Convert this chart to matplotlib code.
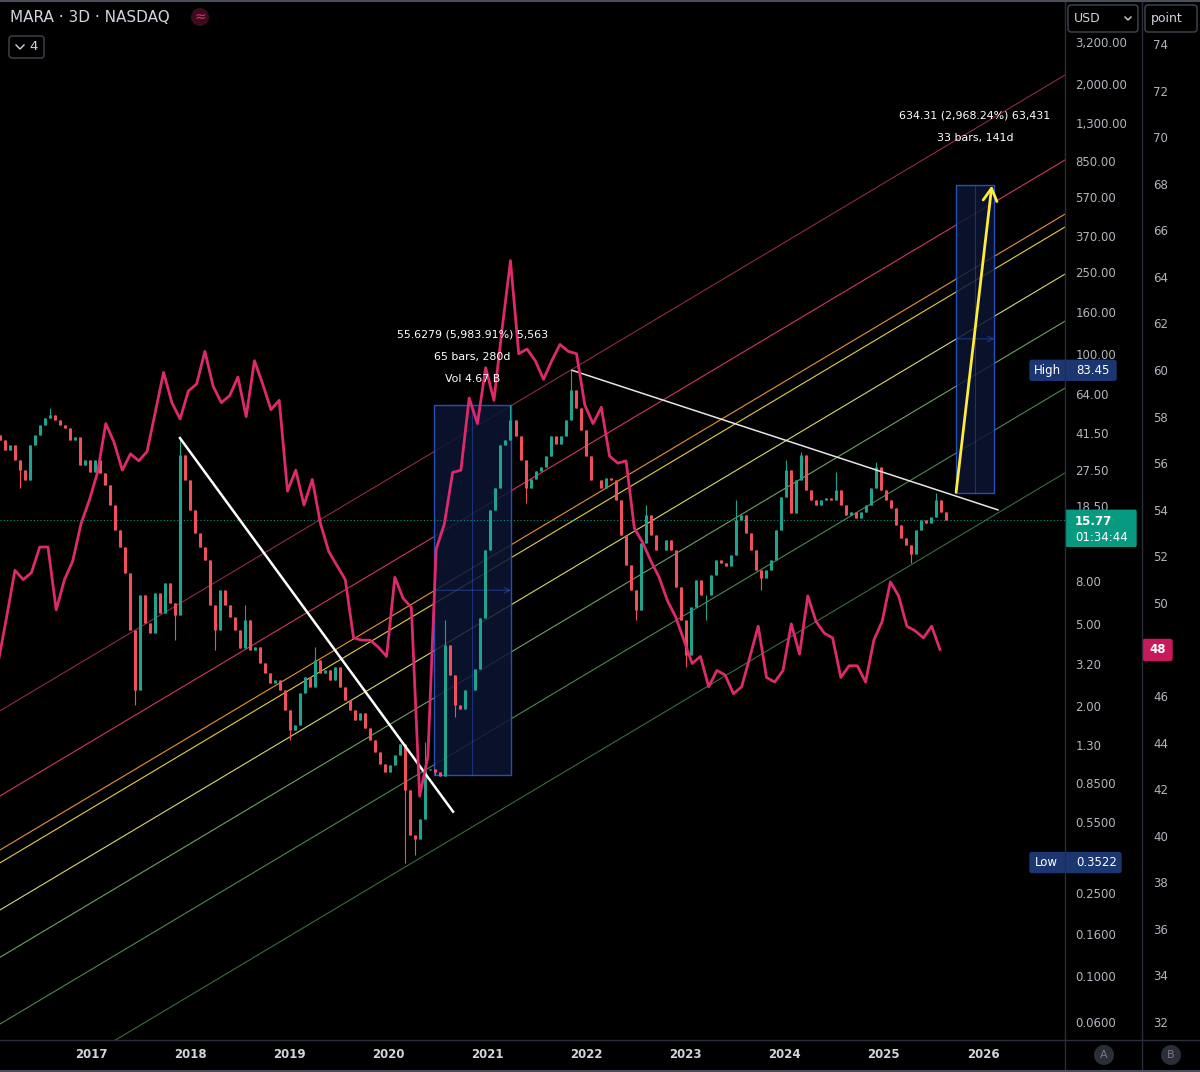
import matplotlib
matplotlib.use("Agg")
import matplotlib.pyplot as plt
import matplotlib.patches as mpatches
from matplotlib.ticker import FixedLocator, FixedFormatter, NullLocator
import numpy as np

W, H = 1200, 1072

# ---- MARA 3D candles, thinned to one every ~18 days (USD) ----
bar_start = 2016.082
bar_step = 0.0505
first_open = 40.5
closes = [
    38.5, 34.4, 36.4, 30.8, 27.6, 24.7, 36.4, 40.7, 45.4, 49.1,
    50.8, 48.0, 45.4, 44.0, 38.5, 39.8, 29.1, 30.8, 26.9, 30.8,
    26.6, 23.3, 18.7, 14.2, 11.7, 8.8, 4.66, 2.39, 6.9, 5.03,
    4.5, 7.05, 5.6, 7.85, 6.3, 5.5, 32.6, 24.7, 17.7, 13.7,
    11.7, 10.1, 6.15, 4.66, 7.3, 6.15, 5.4, 4.66, 3.82, 5.2,
    3.73, 3.86, 3.23, 2.89, 2.59, 2.68, 2.39, 1.92, 1.53, 1.62,
    2.31, 2.77, 2.47, 3.34, 2.89, 2.99, 2.68, 3.09, 2.47, 2.14,
    1.92, 1.72, 1.85, 1.57, 1.37, 1.20, 1.05, 0.96, 1.04, 1.16,
    1.31, 0.79, 0.478, 0.457, 0.571, 0.98, 1.0, 0.96, 0.92, 3.95,
    2.83, 2.03, 1.94, 2.39, 2.39, 3.02, 5.3, 11.3, 17.7, 22.6,
    36.4, 38.5, 48.0, 40.2, 30.8, 22.6, 25.0, 27.3, 28.5, 32.2,
    40.2, 36.8, 40.2, 48.0, 67.0, 54.9, 43.0, 32.2, 24.7, 24.7,
    22.6, 25.3, 24.7, 19.75, 13.4, 9.6, 7.3, 5.8, 12.3, 16.7,
    13.4, 11.3, 11.3, 12.7, 11.3, 7.5, 5.2, 3.53, 6.0, 8.1,
    6.9, 6.9, 8.6, 10.1, 9.8, 9.5, 10.7, 15.8, 16.7, 13.7,
    11.3, 9.1, 8.3, 9.1, 10.1, 14.2, 20.4, 27.6, 17.1, 24.7,
    32.6, 22.1, 19.75, 18.7, 19.75, 20.2, 19.75, 22.1, 18.7, 16.7,
    17.3, 16.2, 17.3, 18.7, 22.6, 28.5, 22.1, 19.75, 18.1, 15.0,
    13.0, 12.0, 10.9, 14.2, 15.8, 15.3, 16.3, 19.75, 17.3, 15.77,
]
# wick extremes that stick out of the bodies (bar index -> price)
wick_highs = {10: 54.9, 36: 39.3, 49: 6.15, 63: 3.86, 85: 1.34, 89: 5.2,
              102: 56.56, 114: 83.45, 129: 18.7, 147: 19.75, 157: 30.8,
              160: 33.7, 167: 26.9, 175: 30.1, 187: 21.4}
wick_lows = {4: 22.6, 27: 2.03, 35: 4.17, 43: 3.73, 58: 1.37, 81: 0.3522,
             83: 0.383, 87: 0.9296, 91: 1.78, 105: 19.1, 127: 5.2, 137: 3.1,
             141: 5.2, 152: 7.3, 182: 9.8}

# ---- monthly oscillator on the "point" scale ----
osc_start = 2016.066
osc = [
    47.5, 49.4, 51.4, 51.0, 51.3, 52.4, 52.4, 49.7, 51.0, 51.8, 53.4,
    54.4, 55.6, 57.7, 56.9, 55.7, 56.4, 56.1, 56.5, 58.2, 59.9,
    58.6, 57.9, 59.1, 59.4, 60.8, 59.3, 58.6, 58.9, 59.7, 58.0,
    60.4, 59.4, 58.3, 58.7, 54.8, 55.7, 54.2, 55.3, 53.4, 52.2,
    51.6, 51.0, 48.5, 48.4, 48.4, 48.1, 47.7, 51.1, 50.2, 49.8,
    41.7, 43.4, 52.3, 53.4, 55.6, 55.7, 58.8, 57.7, 60.1, 58.7,
    61.8, 64.7, 60.7, 60.9, 60.4, 59.6, 60.4, 61.1, 60.8, 60.7,
    58.5, 57.7, 58.4, 56.3, 56.0, 56.1, 53.2, 52.6, 51.8, 51.1,
    50.1, 49.4, 48.4, 47.4, 47.7, 46.4, 47.1, 46.9, 46.1, 46.4,
    47.7, 49.0, 46.8, 46.6, 47.1, 49.1, 47.8, 50.3, 49.2, 48.7,
    48.5, 46.8, 47.3, 47.3, 46.6, 48.4, 49.2, 50.9, 50.3, 49.0,
    48.8, 48.5, 49.0, 48.0,
]

# ---- axes ----
years = list(range(2017, 2027))
price_ticks = [3200, 2000, 1300, 850, 570, 370, 250, 160, 100, 64, 41.5, 27.5,
               18.5, 8, 5, 3.2, 2, 1.3, 0.85, 0.55, 0.25, 0.16, 0.1, 0.06]
price_labels = ["3,200.00", "2,000.00", "1,300.00", "850.00", "570.00", "370.00",
                "250.00", "160.00", "100.00", "64.00", "41.50", "27.50", "18.50",
                "8.00", "5.00", "3.20", "2.00", "1.30", "0.8500", "0.5500",
                "0.2500", "0.1600", "0.1000", "0.0600"]
point_ticks = [p for p in range(32, 76, 2) if p != 48]   # 48 sits under the last-value tag

# ---- drawings ----
chan_x = [2016.082, 2026.828]
chan_levels = [(1.90, 2218), (0.738, 863), (0.405, 473), (0.351, 410),
               (0.208, 243), (0.123, 144), (0.0586, 68.5), (0.0228, 26.7)]
chan_colors = ["#8e2c3e", "#d0395a", "#e8922e", "#e3cf3e", "#d9d56c",
               "#6f9f66", "#4f8652", "#3a6a3d"]
trend1 = ([2017.898, 2020.653], [39.3, 0.62])
trend2 = ([2021.854, 2026.152], [83.45, 17.7])
box1 = (2020.461, 2021.238, 0.9296, 56.56)
box2 = (2025.725, 2026.115, 21.37, 655.68)
box1_text = ["55.6279 (5,983.91%) 5,563", "65 bars, 280d", "Vol 4.67 B"]
box2_text = ["634.31 (2,968.24%) 63,431", "33 bars, 141d"]
arrow_from = (2025.729, 21.5)
arrow_to = (2026.09, 650)
last_price = 15.77
high_price = 83.45
low_price = 0.3522
last_osc = 48

UP, DOWN = "#1fa38f", "#f0505c"
MAG = "#dd2a6c"
GREY = "#b2b5be"
SEP = "#2a2e39"

fig = plt.figure(figsize=(W / 100, H / 100), dpi=100, facecolor="black")
ax = fig.add_axes([0, 32 / H, 1065 / W, 1040 / H])
ax.set_facecolor("black")
ax.set_yscale("log")
ax.set_xlim(2016.082, 2026.828)
ax.set_ylim(0.04906, 5102)
for s in ax.spines.values():
    s.set_visible(False)

# channel lines
for (lo, hi), c in zip(chan_levels, chan_colors):
    ax.plot(chan_x, [lo, hi], color=c, lw=0.8, zorder=1)

# measure boxes
for (x0, x1, lo, hi) in [box1, box2]:
    ax.add_patch(mpatches.Rectangle((x0, lo), x1 - x0, hi - lo, fc="#0b1533",
                                    ec="#2f5bd8", lw=1.0, alpha=0.85, zorder=2))
    xm = (x0 + x1) / 2
    ym = np.sqrt(lo * hi)
    ax.plot([xm, xm], [lo, hi], color="#2f5bd8", lw=0.8, alpha=0.45, zorder=2)
    ax.annotate("", xy=(x1, ym), xytext=(x0, ym),
                arrowprops=dict(arrowstyle="->", color="#2f5bd8", lw=0.8,
                                alpha=0.5, shrinkA=0, shrinkB=0), zorder=2)

# candles
n = len(closes)
bar_t = bar_start + bar_step * np.arange(n)
opens = [first_open] + closes[:-1]
highs = [max(o, c) for o, c in zip(opens, closes)]
lows = [min(o, c) for o, c in zip(opens, closes)]
for i, v in wick_highs.items():
    highs[i] = v
for i, v in wick_lows.items():
    lows[i] = v
cols = [UP if c >= o else DOWN for o, c in zip(opens, closes)]
ax.vlines(bar_t, lows, highs, colors=cols, lw=0.8, zorder=3)
ax.vlines(bar_t, np.minimum(opens, closes), np.maximum(opens, closes),
          colors=cols, lw=2.2, zorder=3)

ax.axhline(last_price, color="#089981", lw=0.8, ls=(0, (1, 2)), zorder=2)

# trend lines and projection arrow
ax.plot(*trend1, color="white", lw=1.8, zorder=4)
ax.plot(*trend2, color="#e6e6e6", lw=1.1, zorder=4)
ax.annotate("", xy=arrow_to, xytext=arrow_from,
            arrowprops=dict(arrowstyle="->,head_length=0.9,head_width=0.5",
                            color="#ffeb3b", lw=2, shrinkA=0, shrinkB=0), zorder=4)

# oscillator pane on the "point" scale
ax2 = ax.twinx()
ax2.set_ylim(31.23, 75.89)
for s in ax2.spines.values():
    s.set_visible(False)
osc_t = osc_start + np.arange(len(osc)) / 12
ax2.plot(osc_t, osc, color=MAG, lw=2.0, zorder=5)
ax2.set_yticks(point_ticks)
ax2.set_yticklabels([str(p) for p in point_ticks])
ax2.tick_params(axis="y", length=0, pad=63.5, labelsize=8.5, labelcolor=GREY)

# price scale (twinx moved it to the left, put it back on the right)
ax.yaxis.tick_right()
ax.yaxis.set_major_locator(FixedLocator(price_ticks))
ax.yaxis.set_major_formatter(FixedFormatter(price_labels))
ax.yaxis.set_minor_locator(NullLocator())
ax.tick_params(axis="y", length=0, pad=7.5, labelsize=8.5, labelcolor=GREY)
ax.set_xticks(years)
ax.set_xticklabels([str(y) for y in years])
ax.tick_params(axis="x", length=0, pad=6, labelsize=8.5, labelcolor="#d1d4dc")
for lbl in ax.get_xticklabels():
    lbl.set_fontweight("bold")

# ---- overlay in pixel units ----
ov = fig.add_axes([0, 0, 1, 1])
ov.set_xlim(0, W)
ov.set_ylim(H, 0)
ov.axis("off")
ov.set_zorder(10)


def to_px(a, x, y):
    dx, dy = a.transData.transform((x, y))
    return dx, H - dy


def rbox(x0, y0, w, h, fc, ec=None, r=2.5, lw=1.0):
    ov.add_patch(mpatches.FancyBboxPatch((x0, y0), w, h,
                                         boxstyle=f"round,pad=0,rounding_size={r}",
                                         fc=fc, ec=ec or fc, lw=lw))


# separators
ov.plot([1065, 1065], [0, H], color=SEP, lw=1)
ov.plot([1142, 1142], [0, H], color=SEP, lw=1)
ov.plot([0, W], [1040, 1040], color=SEP, lw=1)
ov.plot([0, W], [1, 1], color="#4a4e58", lw=1.5)
ov.plot([0, W], [1071, 1071], color="#4a4e58", lw=1.5)

# measurement texts
for (x0, x1, lo, hi), lines, offs in [(box1, box1_text, [71, 48, 26]),
                                      (box2, box2_text, [69, 47])]:
    cx, ty = to_px(ax, (x0 + x1) / 2, hi)
    for txt, off in zip(lines, offs):
        ov.text(cx, ty - off, txt, color="white", fontsize=7.9,
                ha="center", va="center")

# header
ov.text(10, 18, "MARA · 3D · NASDAQ", color="#d1d4dc", fontsize=11, va="center")
ov.add_patch(mpatches.Circle((200, 17), 9, fc="#3a0c1d", ec="none"))
ov.text(200, 17, "≈", color=MAG, fontsize=10, ha="center", va="center")
rbox(9, 36, 35, 22, "black", "#434651", r=3)
ov.plot([16, 20, 24], [45, 49, 45], color="#d1d4dc", lw=1)
ov.text(34, 47, "4", color="#d1d4dc", fontsize=9.5, ha="center", va="center")

rbox(1068, 5, 70, 27, "black", "#434651", r=3)
ov.text(1074, 18.5, "USD", color="#d1d4dc", fontsize=9, va="center")
ov.plot([1125, 1128, 1131], [17, 20, 17], color="#d1d4dc", lw=1)
rbox(1145, 5, 52, 27, "black", "#434651", r=3)
ov.text(1151, 18.5, "point", color="#d1d4dc", fontsize=9, va="center")

# price labels
_, yh = to_px(ax, 2020, high_price)
rbox(1030, yh - 10, 86, 20, "#1b3670", r=2)
ov.text(1034, yh, "High", color="white", fontsize=8.5, va="center")
ov.text(1076, yh, f"{high_price:.2f}", color="white", fontsize=8.5, va="center")

_, yl = to_px(ax, 2020, low_price)
rbox(1030, yl - 10, 91, 20, "#1b3670", r=2)
ov.text(1035, yl, "Low", color="white", fontsize=8.5, va="center")
ov.text(1076, yl, f"{low_price:.4f}", color="white", fontsize=8.5, va="center")

_, yp = to_px(ax, 2020, last_price)
rbox(1066, yp - 10, 70, 36, "#089981", r=1)
ov.text(1075, yp + 1, f"{last_price:.2f}", color="white", fontsize=8.5,
        va="center", fontweight="bold")
ov.text(1075, yp + 17, "01:34:44", color="white", fontsize=8.5, va="center")

_, yo = to_px(ax2, 2020, last_osc)
rbox(1143, yo - 10, 29, 21, "#c8195c", r=2)
ov.text(1157.5, yo + 0.5, str(last_osc), color="white", fontsize=8.5,
        ha="center", va="center", fontweight="bold")

for cx, letter in [(1104, "A"), (1171, "B")]:
    ov.add_patch(mpatches.Circle((cx, 1055), 10, fc="#2a2e39", ec="none"))
    ov.text(cx, 1055.5, letter, color="#787b86", fontsize=8, ha="center", va="center")

fig.savefig("out.png", dpi=100, facecolor="black")
